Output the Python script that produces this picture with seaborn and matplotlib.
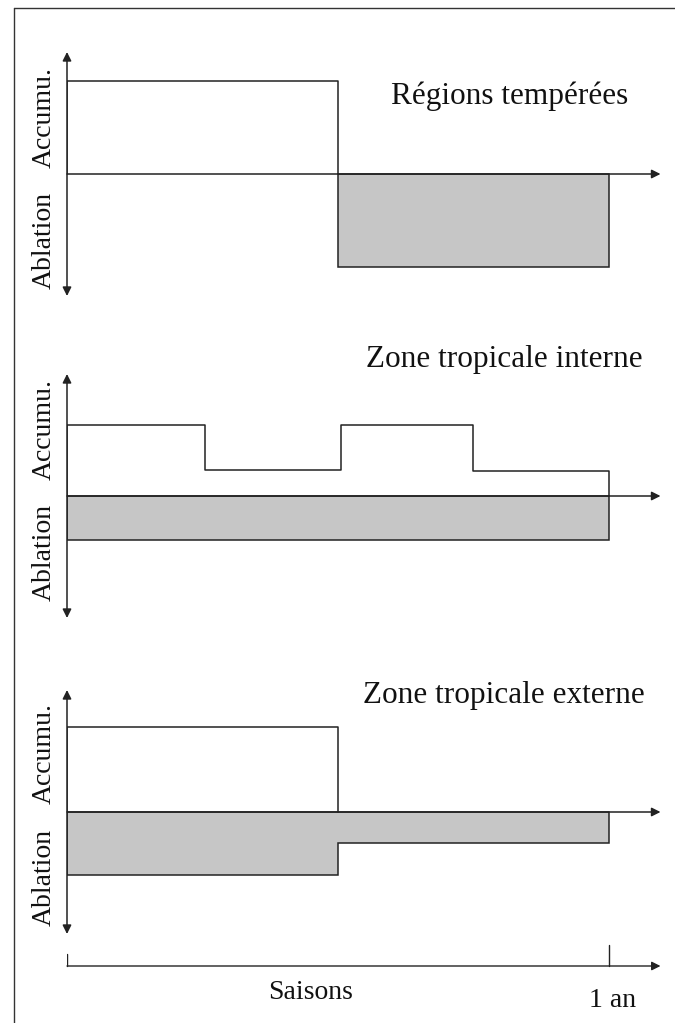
import matplotlib
matplotlib.use('Agg')
import matplotlib.pyplot as plt
import seaborn as sns
from matplotlib.lines import Line2D

# données (fraction de l'année, intensité relative)
titres = ['Régions tempérées', 'Zone tropicale interne', 'Zone tropicale externe']

temp_acc_bornes = [0, 0.5]
temp_acc_val = [1.0]
temp_abl_bornes = [0.5, 1.0]
temp_abl_val = [1.0]

int_acc_bornes = [0, 0.255, 0.505, 0.75, 1.0]
int_acc_val = [0.76, 0.28, 0.76, 0.27]
int_abl_bornes = [0, 1.0]
int_abl_val = [0.47]

ext_acc_bornes = [0, 0.5]
ext_acc_val = [0.91]
ext_abl_bornes = [0, 0.5, 1.0]
ext_abl_val = [0.68, 0.33]

panneaux = [
    (temp_acc_bornes, temp_acc_val, temp_abl_bornes, temp_abl_val),
    (int_acc_bornes, int_acc_val, int_abl_bornes, int_abl_val),
    (ext_acc_bornes, ext_acc_val, ext_abl_bornes, ext_abl_val),
]

sns.set_theme(style='white')
plt.rcParams['font.family'] = ['Liberation Serif', 'DejaVu Serif']

W, H = 675, 1023
fig = plt.figure(figsize=(W / 100, H / 100), dpi=100)


def fx(x):
    return x / W


def fy(y):
    return 1 - y / H


def contour(bornes, vals, signe):
    # contour en escalier fermé sur l'axe zéro
    xs = [bornes[0]]
    ys = [0]
    for i, v in enumerate(vals):
        xs += [bornes[i], bornes[i + 1]]
        ys += [signe * v, signe * v]
    xs.append(bornes[-1])
    ys.append(0)
    return xs, ys


# mise en page (pixels)
x0, x1an = 67, 609
unite = 93
demi = 122
zeros = [174, 496, 812]
titre_pos = [(510, 96), (504, 360), (504, 696)]
accum_y = [117, 429, 754]
abl_y = [240, 552, 877]
xmax = (667 - x0) / (x1an - x0)

for k, (ab, av, bb, bv) in enumerate(panneaux):
    z = zeros[k]
    ax = fig.add_axes([fx(x0), fy(z + demi), fx(667) - fx(x0), (2 * demi) / H])
    ax.set_xlim(0, xmax)
    ax.set_ylim(-demi / unite, demi / unite)
    ax.axis('off')

    xs, ys = contour(bb, bv, -1)
    ax.fill(xs, ys, facecolor='#c6c6c6', edgecolor='#222222', lw=1.1, zorder=1)

    xs, ys = contour(ab, av, 1)
    sns.lineplot(x=xs, y=ys, sort=False, estimator=None, color='#222222',
                 lw=1.1, ax=ax, zorder=2)

    ax.annotate('', xy=(1.095, 0), xytext=(0, 0),
                arrowprops=dict(arrowstyle='-|>', color='#222222', lw=1.1,
                                mutation_scale=13, shrinkA=0, shrinkB=0))
    ax.annotate('', xy=(0, demi / unite), xytext=(0, -demi / unite),
                arrowprops=dict(arrowstyle='<|-|>', color='#222222', lw=1.1,
                                mutation_scale=13, shrinkA=0, shrinkB=0))

    fig.text(fx(titre_pos[k][0]), fy(titre_pos[k][1]), titres[k],
             ha='center', va='center', fontsize=22.5, color='#111111')
    fig.text(fx(44), fy(accum_y[k]), 'Accumu.', rotation=90,
             ha='center', va='center', fontsize=20, color='#111111')
    fig.text(fx(44), fy(abl_y[k]), 'Ablation', rotation=90,
             ha='center', va='center', fontsize=20, color='#111111')

# axe du temps
axt = fig.add_axes([fx(x0), fy(1020), fx(667) - fx(x0), 90 / H])
axt.set_xlim(0, xmax)
axt.set_ylim(-(1020 - 966) / unite, (966 - 930) / unite)
axt.axis('off')
axt.annotate('', xy=(1.095, 0), xytext=(0, 0),
             arrowprops=dict(arrowstyle='-|>', color='#222222', lw=1.0,
                             mutation_scale=13, shrinkA=0, shrinkB=0))
axt.plot([0, 0], [0, 12 / unite], color='#222222', lw=1.0)
axt.plot([1, 1], [0, 21 / unite], color='#222222', lw=1.0)
axt.text(0.45, -0.28, 'Saisons', ha='center', va='center', fontsize=20, color='#111111')
axt.text(1.007, -0.37, '1 an', ha='center', va='center', fontsize=20, color='#111111')

# cadre
fig.add_artist(Line2D([fx(14), fx(14)], [fy(8), 0], color='#333333', lw=1.0))
fig.add_artist(Line2D([fx(14), 1], [fy(8), fy(8)], color='#333333', lw=1.0))

fig.savefig('out.png', dpi=100)
